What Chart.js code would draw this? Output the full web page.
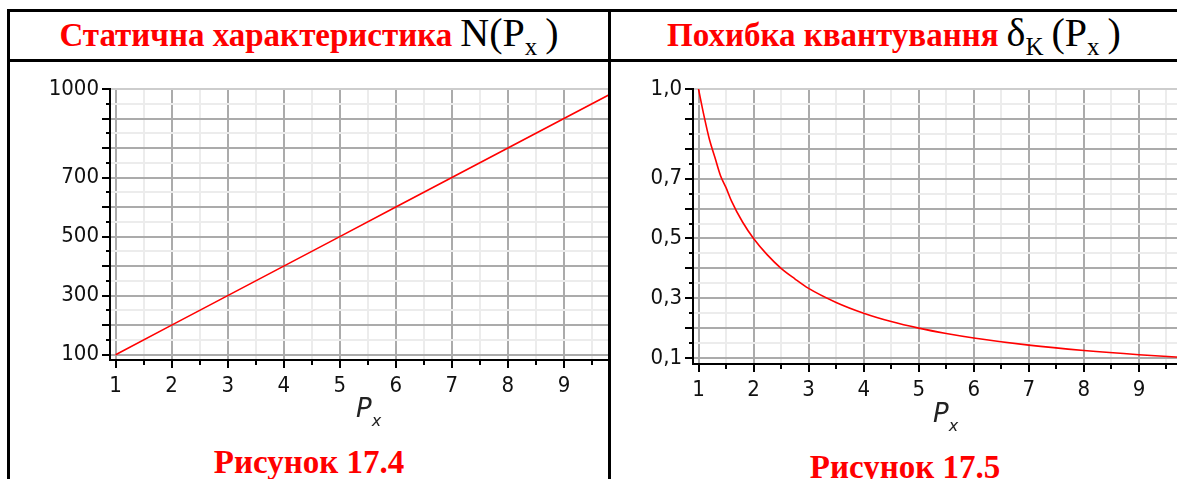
<!DOCTYPE html>
<html><head><meta charset="utf-8">
<script src="https://cdn.jsdelivr.net/npm/chart.js@4.4.1/dist/chart.umd.min.js"></script>
<style>
html,body{margin:0;padding:0;background:#fff;width:1177px;height:479px;overflow:hidden;}
body{position:relative;}
.line{position:absolute;background:#000;z-index:5;}
.box{position:absolute;overflow:hidden;}
.box canvas{position:absolute;left:0;top:0;}
.hdr{position:absolute;text-align:center;white-space:nowrap;line-height:48px;height:48px;}
.red{color:#ff0000;font-family:'Liberation Serif','Times New Roman',serif;font-weight:bold;font-size:33px;}
.math{font-family:'Liberation Serif','Times New Roman',serif;font-size:40px;color:#000;}
.math .sub{font-size:25px;position:relative;top:9px;}
.axt{position:absolute;font-family:'DejaVu Sans',sans-serif;font-style:italic;color:#222;white-space:nowrap;}
.axt .p{font-size:26px;}
.axt .s{font-size:16px;position:relative;top:9px;}
.cap{position:absolute;text-align:center;white-space:nowrap;}
</style>
</head><body>
<div class="box" id="boxL" style="left:11px;top:62px;width:597px;height:360px;"><canvas id="cL" width="629" height="338"></canvas></div>
<div class="box" id="boxR" style="left:611px;top:62px;width:566px;height:360px;"><canvas id="cR" width="603" height="342"></canvas></div>

<div class="line" style="left:7px;top:9px;width:1170px;height:3px;"></div>
<div class="line" style="left:7px;top:59px;width:1170px;height:3px;"></div>
<div class="line" style="left:7px;top:9px;width:3px;height:470px;"></div>
<div class="line" style="left:608px;top:9px;width:3px;height:470px;"></div>

<div class="hdr" style="left:10px;top:9px;width:598px;"><span class="red">Статична характеристика</span>&nbsp; <span class="math">N(P<span class="sub">x</span>&#8201;)</span></div>
<div class="hdr" style="left:611px;top:9px;width:566px;"><span class="red">Похибка квантування</span>&nbsp; <span class="math">δ<span class="sub">K</span>&#8201;(P<span class="sub">x</span>&#8201;)</span></div>

<div class="axt" style="left:356px;top:393px;"><span class="p">P</span><span class="s">x</span></div>
<div class="axt" style="left:933px;top:398px;"><span class="p">P</span><span class="s">x</span></div>

<div class="cap red" style="left:10px;top:444px;width:598px;">Рисунок 17.4</div>
<div class="cap red" style="left:611px;top:449px;width:588px;">Рисунок 17.5</div>

<script>
// ---- data ----
const px = [1, 2, 3, 4, 5, 6, 7, 8, 9, 10];
const nValues = [100, 200, 300, 400, 500, 600, 700, 800, 900, 1000];

const pxCurve = [1, 1.1, 1.2, 1.3, 1.4, 1.5, 1.6, 1.8, 2, 2.25, 2.5, 2.75, 3, 3.5, 4, 4.5, 5, 5.5, 6, 7, 8, 9, 10];
const deltaValues = [1.0, 0.91, 0.83, 0.77, 0.71, 0.67, 0.625, 0.555, 0.5, 0.445, 0.4, 0.365, 0.333, 0.286, 0.25, 0.222, 0.2, 0.182, 0.167, 0.143, 0.125, 0.111, 0.1];

const pxMajorTicks = [1, 2, 3, 4, 5, 6, 7, 8, 9, 10];
const pxMinorTicks = [1.5, 2.5, 3.5, 4.5, 5.5, 6.5, 7.5, 8.5, 9.5];
const pxTickLabels = ['1', '2', '3', '4', '5', '6', '7', '8', '9', '10'];

const nMajorTicks = [100, 200, 300, 400, 500, 600, 700, 800, 900, 1000];
const nMinorTicks = [150, 250, 350, 450, 550, 650, 750, 850, 950];
const nLabelValues = [100, 300, 500, 700, 1000];
const nTickLabels = ['100', '300', '500', '700', '1000'];

const deltaMajorTicks = [0.1, 0.2, 0.3, 0.4, 0.5, 0.6, 0.7, 0.8, 0.9, 1.0];
const deltaMinorTicks = [0.15, 0.25, 0.35, 0.45, 0.55, 0.65, 0.75, 0.85, 0.95];
const deltaLabelValues = [0.1, 0.3, 0.5, 0.7, 1.0];
const deltaTickLabels = ['0,1', '0,3', '0,5', '0,7', '1,0'];

// ---- styling ----
const TICK_FONT = {family: "'DejaVu Sans Condensed', 'DejaVu Sans', sans-serif", size: 22};
const MAJOR = '#ababab', MINOR = '#ececec', TOPLINE = '#cdcdcd';

function labelFor(values, labels) {
  return v => {
    const i = values.findIndex(l => Math.abs(l - v) < 1e-9);
    return i >= 0 ? labels[i] : '';
  };
}
function setTicks(arr) { return s => { s.ticks = arr.map(v => ({value: v})); }; }

function makeChart(id, cfg) {
  const xs = cfg.xs.map((x, i) => ({x: x, y: cfg.ys[i]}));
  return new Chart(document.getElementById(id), {
    type: 'line',
    data: {datasets: [{data: xs, borderColor: '#ff0000', borderWidth: 1.6, pointRadius: 0,
      fill: false, cubicInterpolationMode: cfg.smooth ? 'monotone' : 'default', tension: 0}]},
    options: {
      responsive: false, animation: false, devicePixelRatio: 1,
      layout: {padding: {left: 0, right: 20, top: 27, bottom: 0}},
      plugins: {legend: {display: false}, tooltip: {enabled: false}},
      scales: {
        x: {type: 'linear', position: 'bottom', weight: 1, min: cfg.xMin, max: cfg.xMax,
          afterBuildTicks: setTicks(pxMajorTicks),
          afterFit: s => { s.height = 40; },
          ticks: {autoSkip: false, maxRotation: 0, padding: 5, color: '#111', font: TICK_FONT,
            callback: labelFor(pxMajorTicks, pxTickLabels)},
          grid: {color: MAJOR, lineWidth: 2, tickColor: '#000', tickLength: 8, tickWidth: 2},
          border: {display: true, color: '#000', width: 2}},
        xMinor: {type: 'linear', position: 'bottom', weight: 0, min: cfg.xMin, max: cfg.xMax,
          afterBuildTicks: setTicks(pxMinorTicks),
          afterFit: s => { s.height = 0; },
          ticks: {display: false},
          grid: {color: MINOR, lineWidth: 2, tickColor: '#000', tickLength: 5, tickWidth: 2},
          border: {display: false}},
        y: {type: 'linear', position: 'left', weight: 1, min: cfg.yMin, max: cfg.yMax,
          afterBuildTicks: setTicks(cfg.yMajor),
          afterFit: s => { s.width = cfg.yWidth; },
          ticks: {autoSkip: false, padding: 3, color: '#111', font: TICK_FONT,
            callback: labelFor(cfg.yLabelValues, cfg.yLabels)},
          grid: {color: c => (c.tick && Math.abs(c.tick.value - cfg.yMax) < 1e-9) ? TOPLINE : MAJOR,
            lineWidth: 2, tickColor: '#000', tickLength: 8, tickWidth: 2},
          border: {display: true, color: '#000', width: 2}},
        yMinor: {type: 'linear', position: 'left', weight: 0, min: cfg.yMin, max: cfg.yMax,
          afterBuildTicks: setTicks(cfg.yMinor),
          afterFit: s => { s.width = 0; },
          ticks: {display: false},
          grid: {color: MINOR, lineWidth: 2, tickColor: '#000', tickLength: 4, tickWidth: 2},
          border: {display: false}}
      }
    }
  });
}

makeChart('cL', {xs: px, ys: nValues, smooth: false, xMin: 0.9, xMax: 10, yMin: 82, yMax: 1000,
  yMajor: nMajorTicks, yMinor: nMinorTicks, yLabelValues: nLabelValues, yLabels: nTickLabels, yWidth: 99});
makeChart('cR', {xs: pxCurve, ys: deltaValues, smooth: true, xMin: 0.9, xMax: 10, yMin: 0.08, yMax: 1.0,
  yMajor: deltaMajorTicks, yMinor: deltaMinorTicks, yLabelValues: deltaLabelValues, yLabels: deltaTickLabels, yWidth: 82});
</script>
</body></html>
